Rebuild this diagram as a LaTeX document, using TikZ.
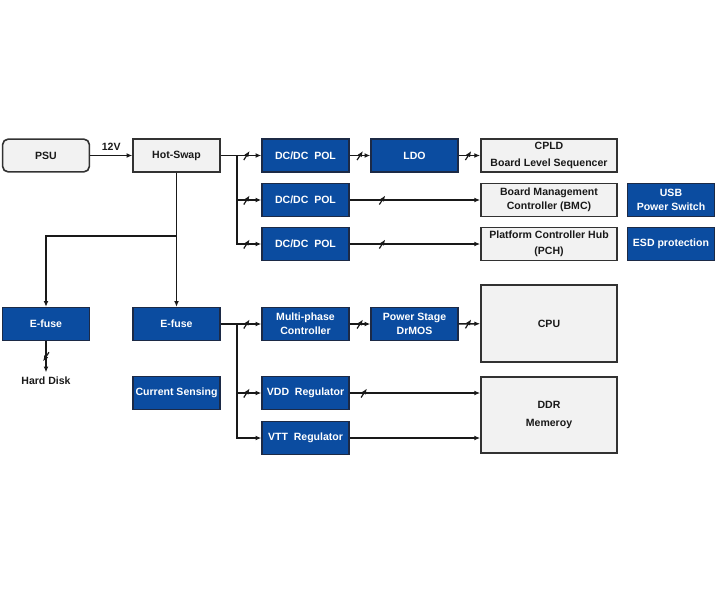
\documentclass[tikz,border=0pt]{standalone}
\usepackage{fontspec}
\setmainfont{Liberation Sans}
\usetikzlibrary{arrows.meta, positioning, decorations.markings}
\definecolor{boxblue}{RGB}{11, 76, 160}
\definecolor{boxnavy}{RGB}{28, 42, 70}
\definecolor{panelgray}{RGB}{242, 242, 242}
\definecolor{edgegray}{RGB}{50, 50, 50}
\definecolor{linegray}{RGB}{25, 25, 25}
\tikzset{
  >=Stealth,
  flowarrow/.style={-{Latex[length=4.4pt, width=3.6pt]}, line width=1.1pt, linegray},
  bus/.style={postaction={decorate, decoration={markings, mark=at position #1 with {\draw[line width=0.9pt, linegray] (-2.2pt,-3.4pt) -- (2.2pt,3.4pt);}}}},
  busv/.style={postaction={decorate, decoration={markings, mark=at position #1 with {\draw[line width=0.9pt, linegray] (-3.4pt,2.2pt) -- (3.4pt,-2.2pt);}}}},
  labeltext/.style={font=\bfseries\fontsize{7.9}{10.5}\selectfont, text=black!90}
}
\tikzset{
  bluebox/.style={rectangle, draw=boxnavy, fill=boxblue, line width=1.2pt, minimum width=65pt, minimum height=24.5pt, inner sep=1pt, align=center, text=white, font=\bfseries\fontsize{7.9}{10.5}\selectfont},
  graybox/.style={rectangle, draw=edgegray, fill=panelgray, line width=1.2pt, minimum width=102pt, minimum height=24.5pt, inner sep=1pt, align=center, text=black!90, font=\bfseries\fontsize{7.9}{10.5}\selectfont},
  psubox/.style={graybox, rounded corners=4pt, minimum width=65pt}
}

\begin{document}
\begin{tikzpicture}[x=0.75pt, y=-0.75pt]
    \useasboundingbox (0,0) rectangle (720,600);

    % Input side
    \node[psubox] (psu) at (46, 155.5) {PSU};
    \node[graybox, minimum width=65pt] (hs) at (176.5, 155.5) {Hot-Swap};

    % Upper rail: POL converters
    \node[bluebox] (pol1) at (305.5, 155.5) {DC/DC\ \ POL};
    \node[bluebox] (pol2) at (305.5, 200) {DC/DC\ \ POL};
    \node[bluebox] (pol3) at (305.5, 244) {DC/DC\ \ POL};
    \node[bluebox] (ldo) at (414.5, 155.5) {LDO};

    \node[graybox] (cpld) at (549, 155.5) {CPLD\\[2pt]Board Level Sequencer};
    \node[graybox] (bmc) at (549, 200) {Board Management\\Controller (BMC)};
    \node[graybox] (pch) at (549, 244) {Platform Controller Hub\\[1.5pt](PCH)};

    \node[bluebox] (usb) at (671, 200) {USB\\Power Switch};
    \node[bluebox] (esd) at (671, 244) {ESD protection};

    % Lower rail: E-fuses, CPU and memory
    \node[bluebox] (efuseA) at (46, 324) {E-fuse};
    \node[bluebox] (efuseB) at (176.5, 324) {E-fuse};
    \node[labeltext] (hdd) at (46, 381) {Hard Disk};
    \node[bluebox] (sense) at (176.5, 393) {Current Sensing};

    \node[bluebox] (mpc) at (305.5, 324) {Multi-phase\\Controller};
    \node[bluebox] (vdd) at (305.5, 393) {VDD\ \ Regulator};
    \node[bluebox] (vtt) at (305.5, 438) {VTT\ \ Regulator};
    \node[bluebox] (drmos) at (414.5, 324) {Power Stage\\DrMOS};

    \node[graybox, minimum height=57.5pt] (cpu) at (549, 323.5) {CPU};
    \node[graybox, minimum height=57pt] (ddr) at (549, 415) {DDR\\[2.5pt]Memeroy};

    % Upper connectors
    \draw[flowarrow] (psu) -- node[above, labeltext] {12V} (hs);
    \draw[flowarrow, bus=-11pt] (hs) -- (pol1);
    \coordinate (hsjoin) at (237, 155.5);
    \draw[flowarrow, bus=-11pt] (hsjoin) |- (pol2);
    \draw[flowarrow, bus=-11pt] (hsjoin) |- (pol3);
    \draw[flowarrow, bus=0.5] (pol1) -- (ldo);
    \draw[flowarrow, bus=0.45] (ldo) -- (cpld);
    \draw[flowarrow, bus=0.25] (pol2) -- (bmc);
    \draw[flowarrow, bus=0.25] (pol3) -- (pch);

    % Hot-Swap down to the E-fuses
    \draw[flowarrow] (hs) -- (efuseB);
    \coordinate (hsdrop) at (176.5, 236);
    \draw[flowarrow] (hsdrop) -| (efuseA);
    \draw[flowarrow, busv=0.5] (efuseA) -- (hdd);

    % Lower connectors
    \draw[flowarrow, bus=-11pt] (efuseB) -- (mpc);
    \coordinate (fusejoin) at (237, 324);
    \draw[flowarrow, bus=-11pt] (fusejoin) |- (vdd);
    \draw[flowarrow] (fusejoin) |- (vtt);
    \draw[flowarrow, bus=0.5] (mpc) -- (drmos);
    \draw[flowarrow, bus=0.45] (drmos) -- (cpu);
    \draw[flowarrow, bus=0.11] (vdd) -- (vdd -| ddr.west);
    \draw[flowarrow] (vtt) -- (vtt -| ddr.west);
\end{tikzpicture}
\end{document}
